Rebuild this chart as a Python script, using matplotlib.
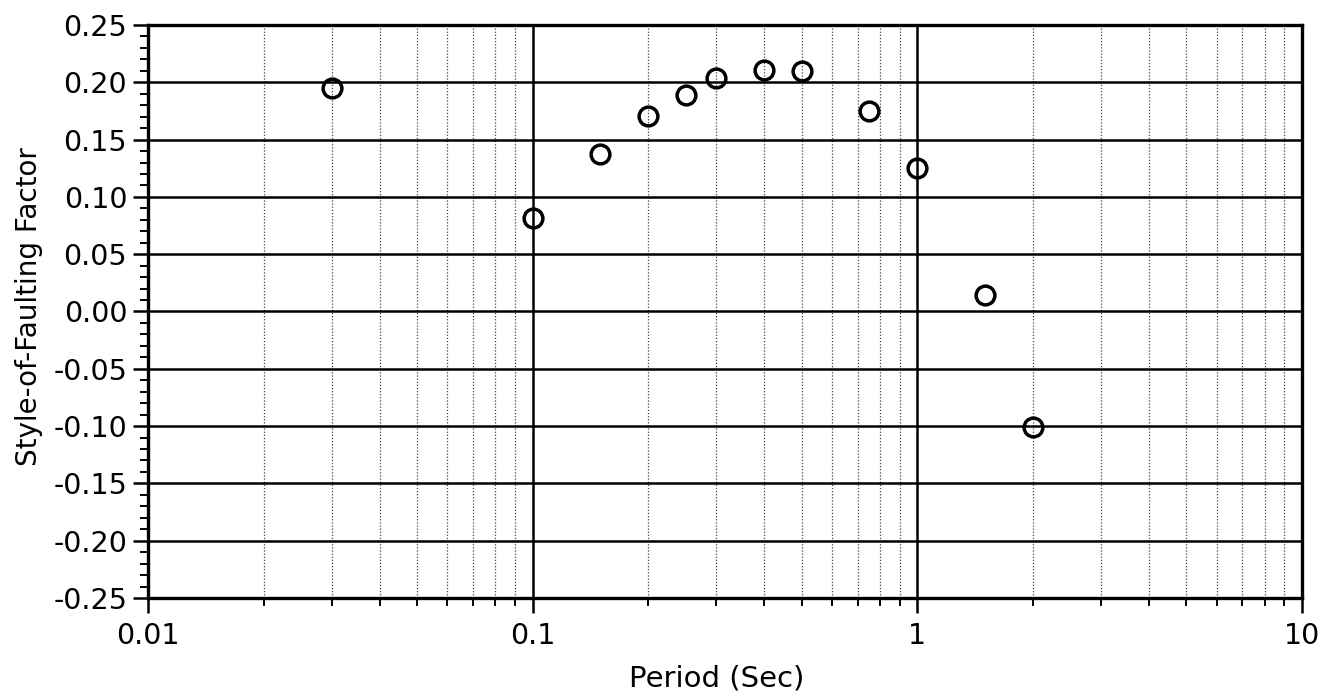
import numpy as np
import matplotlib.pyplot as plt
from matplotlib.ticker import FixedLocator, LogLocator, NullFormatter, FuncFormatter

# style-of-faulting factor vs. spectral period
periods = [0.03, 0.1, 0.15, 0.2, 0.25, 0.3, 0.4, 0.5, 0.75, 1.0, 1.5, 2.0]
sof_factor = [0.195, 0.082, 0.137, 0.171, 0.189, 0.204, 0.211, 0.210, 0.175, 0.125, 0.014, -0.101]

x_ticks = [0.01, 0.1, 1, 10]
x_tick_labels = ["0.01", "0.1", "1", "10"]
y_ticks = [-0.25, -0.20, -0.15, -0.10, -0.05, 0.00, 0.05, 0.10, 0.15, 0.20, 0.25]

plt.rcParams["font.family"] = ["DejaVu Sans"]

fig = plt.figure(figsize=(13.32, 6.97), dpi=100)
ax = fig.add_axes([148 / 1332, 1 - 598 / 697, (1302 - 148) / 1332, (598 - 25) / 697])

ax.plot(periods, sof_factor, linestyle="none", marker="o", markersize=13.5,
        markerfacecolor="none", markeredgecolor="black", markeredgewidth=2.5, zorder=5)

ax.set_xscale("log")
ax.set_xlim(0.01, 10)
ax.set_ylim(-0.25, 0.25)

ax.xaxis.set_major_locator(FixedLocator(x_ticks))
ax.xaxis.set_major_formatter(FuncFormatter(lambda v, p: x_tick_labels[p] if p is not None and p < len(x_tick_labels) else ""))
ax.xaxis.set_minor_locator(LogLocator(base=10, subs=np.arange(2, 10)))
ax.xaxis.set_minor_formatter(NullFormatter())

ax.yaxis.set_major_locator(FixedLocator(y_ticks))
ax.yaxis.set_major_formatter(FuncFormatter(lambda v, p: f"{v:.2f}" if abs(v) > 1e-9 else "0.00"))
ax.yaxis.set_minor_locator(FixedLocator(np.arange(-0.25, 0.2501, 0.01)))

# grid: solid majors, dotted minors on the period axis
ax.grid(which="major", axis="both", color="black", linewidth=1.8, linestyle="-")
ax.grid(which="minor", axis="x", color="#444444", linewidth=0.9, linestyle=(0, (1, 1.5)))
ax.set_axisbelow(True)

for s in ax.spines.values():
    s.set_linewidth(2.4)

ax.tick_params(which="major", direction="out", length=11, width=1.8, labelsize=20.5, color="black")
ax.tick_params(which="minor", direction="out", length=5.5, width=1.4, color="black")
ax.tick_params(axis="x", which="major", pad=6)
ax.tick_params(axis="y", which="major", pad=4)

ax.set_xlabel("Period (Sec)", fontsize=21)
ax.set_ylabel("Style-of-Faulting Factor", fontsize=20)
ax.xaxis.set_label_coords((717 - 148) / 1154, (598 - 665) / 573)
ax.yaxis.set_label_coords((43 - 148) / 1154, (598 - 307) / 573)

fig.savefig("out.png", dpi=100, facecolor="white")
